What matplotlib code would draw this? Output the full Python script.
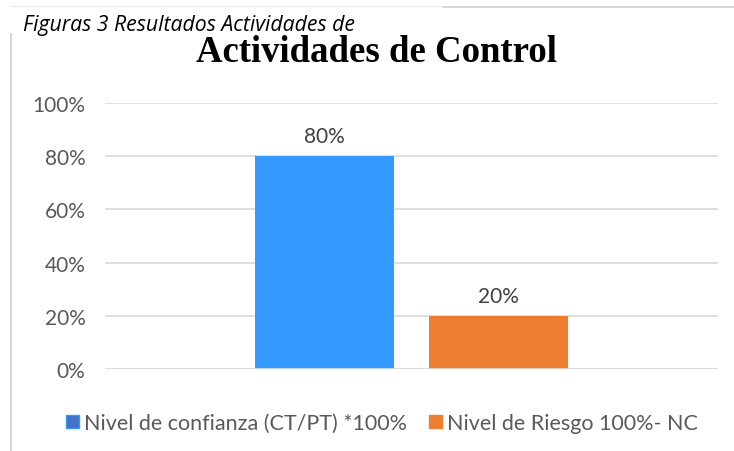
import matplotlib.pyplot as plt
from matplotlib.lines import Line2D
from matplotlib.patches import Patch

# data
series = ["Nivel de confianza (CT/PT) *100%", "Nivel de Riesgo 100%- NC"]
values = [0.80, 0.20]
colors = ["#3399FF", "#ED7D31"]
yticks = [0, 0.2, 0.4, 0.6, 0.8, 1.0]
ytick_labels = ["0%", "20%", "40%", "60%", "80%", "100%"]

W, H = 734, 452
fig = plt.figure(figsize=(W / 100, H / 100), dpi=100)
ax = fig.add_axes([105 / W, 82 / H, 613 / W, 266 / H])

sans = ["Lato", "DejaVu Sans"]
txt = "#595959"

offsets = [-0.142, 0.142]
for off, v, c in zip(offsets, values, colors):
    ax.bar(off, v, width=0.227, color=c, zorder=3)
    ax.text(off, v + 0.038, f"{v:.0%}", ha="center", va="bottom",
            fontsize=15, color="#404040", family=sans)

ax.set_xlim(-0.5, 0.5)
ax.set_ylim(0, 1.0)
ax.set_yticks(yticks)
ax.set_yticklabels(ytick_labels, fontsize=15, color=txt, family=sans)
ax.set_xticks([])
ax.tick_params(axis="y", length=0, pad=14)
ax.grid(axis="y", color="#D9D9D9", lw=1.2, zorder=0)
for s in ax.spines.values():
    s.set_visible(False)
ax.axhline(0, color="#D9D9D9", lw=1.2, zorder=4)
ax.set_axisbelow(True)

# title and caption
fig.text(377 / W, 1 - 52 / H, "Actividades de Control", ha="center",
         va="center", fontsize=26.5, fontweight="bold", family="Liberation Serif")
fig.text(23 / W, 1 - 25 / H, "Figuras 3 Resultados Actividades de",
         ha="left", va="center", fontsize=15.3, style="italic", family="Open Sans")

# page frame lines
fig.add_artist(Line2D([11 / W, 11 / W], [0, 1 - 35 / H], color="#D6D6D6", lw=1.5))
fig.add_artist(Line2D([10 / W, 443 / W], [1 - 7 / H] * 2, color="#EEEEEE", lw=1))
fig.add_artist(Line2D([443 / W, 1], [1 - 8 / H] * 2, color="#D0D0D0", lw=1.2))

# legend
handles = [Patch(facecolor="#4472C4", edgecolor="#3399FF", lw=1),
           Patch(facecolor=colors[1], edgecolor=colors[1])]
leg = fig.legend(handles, series, loc="center", bbox_to_anchor=(382 / W, 1 - 424 / H),
                 ncol=2, frameon=False, handlelength=0.6, handleheight=0.6,
                 handletextpad=0.25, columnspacing=1.0,
                 prop={"family": sans, "size": 15.5})
for t in leg.get_texts():
    t.set_color(txt)

fig.savefig("out.png", dpi=100)
